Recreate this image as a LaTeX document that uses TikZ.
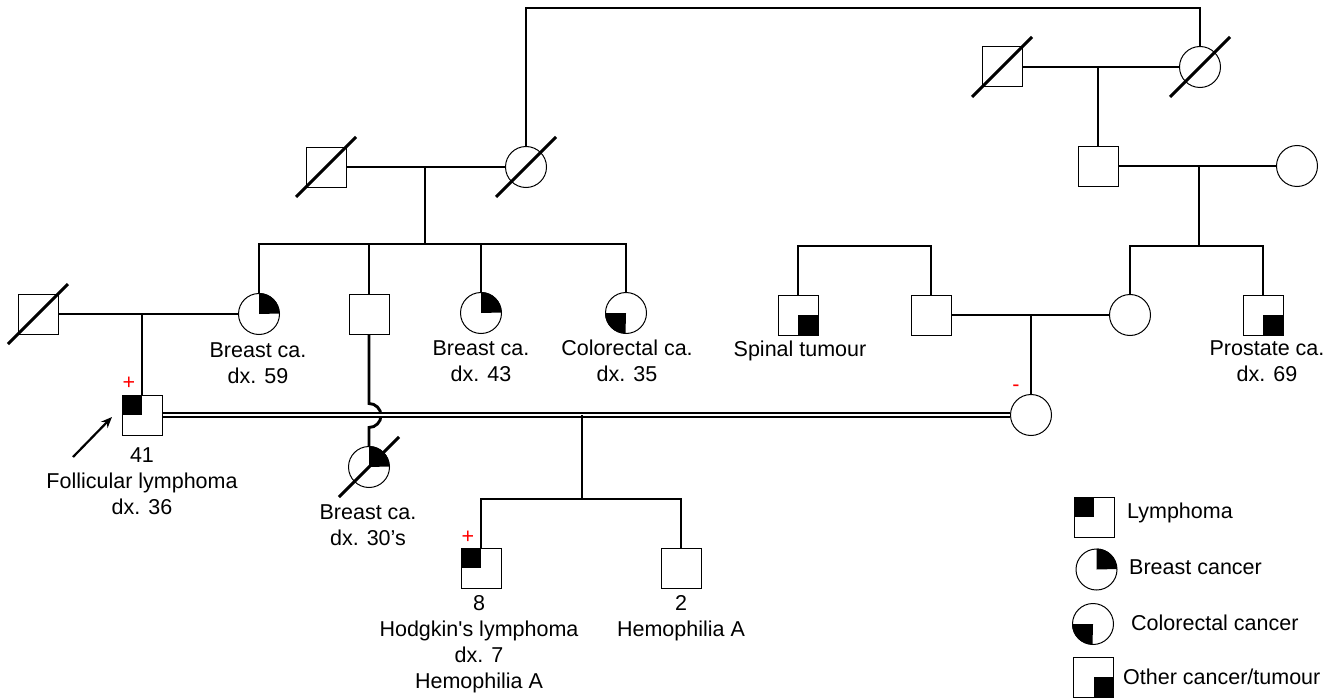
\documentclass[tikz,border=0pt]{standalone}
\usepackage{fontspec}
\setmainfont{Liberation Sans}[Ligatures=TeXOff]
\usetikzlibrary{calc,arrows.meta}
\newcommand\pedQTL[1]{\fill (#1.north west) rectangle (#1.center);}
\newcommand\pedQBR[1]{\fill (#1.center) rectangle (#1.south east);}
\newcommand\pedCTR[1]{\fill (#1.center) -- (#1.north) arc[start angle=90,end angle=0,radius=20.5pt] -- cycle;}
\newcommand\pedCBL[1]{\fill (#1.center) -- (#1.west) arc[start angle=180,end angle=270,radius=20.5pt] -- cycle;}
\newcommand\pedDead[1]{\draw[slashline] ($(#1.center)+(-30,-30)$) -- ($(#1.center)+(30,30)$);}
\begin{document}
\begin{tikzpicture}[x=1pt,y=1pt,
  conn/.style={line width=2.9pt},
  dbl/.style={double, line width=1.4pt, double distance=2.4pt},
  male/.style={draw, line width=1pt, rectangle, minimum size=40pt, inner sep=0pt},
  female/.style={draw, line width=1pt, circle, minimum size=41pt, inner sep=0pt},
  slashline/.style={line width=3pt},
  lbl/.style={font=\fontsize{21.5}{26}\selectfont, align=center, inner sep=0pt},
  legtext/.style={font=\fontsize{21.5}{26}\selectfont, anchor=west, inner sep=0pt},
  sign/.style={font=\fontsize{21.5}{26}\selectfont, text=red, inner sep=0pt},
]
\useasboundingbox (0,0) rectangle (1338,-698);

% individuals
\node[male]   (g1m)  at (1002,-67) {};
\node[female] (g1f)  at (1200,-67) {};
\node[male]   (g2ml) at (326,-167) {};
\node[female] (g2fl) at (526,-167) {};
\node[male]   (g2mr) at (1098,-166) {};
\node[female] (g2fr) at (1297,-166) {};
\node[male]   (fa)   at (38,-314) {};
\node[female] (b59)  at (259,-314) {};
\node[male]   (s1)   at (369,-314) {};
\node[female] (b43)  at (481,-313) {};
\node[female] (cr35) at (626,-313) {};
\node[male]   (sp)   at (798,-315) {};
\node[male]   (hm)   at (931,-315) {};
\node[female] (wf)   at (1130,-315) {};
\node[male]   (pr)   at (1263,-315) {};
\node[male]   (pb)   at (142,-415) {};
\node[female] (b30)  at (369,-467) {};
\node[female] (mo)   at (1031,-415) {};
\node[male]   (c8)   at (481,-568) {};
\node[male]   (c2)   at (681,-568) {};

% helper coordinates
\coordinate (topl) at (526,-8);
\coordinate (d2) at (1199,-166);
\coordinate (sib2) at (1199,-246);
\coordinate (sibsp) at (864,-246);
\coordinate (d3) at (425,-167);
\coordinate (sib3) at (425,-244);
\coordinate (dd) at (582,-415);
\coordinate (sib5) at (582,-499);
\coordinate (arrS) at (73,-457);
\coordinate (arrE) at (112,-417);

% connectors
\draw[conn] (g2fl.north) -- (g2fl.north |- topl) -| (g1f.north);
\draw[conn] (g1m.east) -- (g1f.west);
\draw[conn] (g2mr.north |- g1m.east) -- (g2mr.north);
\draw[conn] (g2mr.east) -- (g2fr.west);
\draw[conn] (d2) -- (sib2);
\draw[conn] (wf.north) |- (sib2) -| (pr.north);
\draw[conn] (sp.north) |- (sibsp) -| (hm.north);
\draw[conn] (hm.east) -- (wf.west);
\draw[conn] (mo.north |- hm.east) -- (mo.north);
\draw[conn] (g2ml.east) -- (g2fl.west);
\draw[conn] (d3) -- (sib3);
\draw[conn] (b59.north) |- (sib3) -| (cr35.north);
\draw[conn] (s1.north) -- (s1.north |- sib3);
\draw[conn] (b43.north) -- (b43.north |- sib3);
\draw[conn] (fa.east) -- (b59.west);
\draw[conn] (pb.north |- fa.east) -- (pb.north);
\draw[conn] (s1.south) -- ++(0,-69) arc[start angle=90,end angle=-90,radius=12] -- (b30.north);
\draw[dbl] (pb.east) -- (mo.west);
\draw[conn] (dd) -- (sib5);
\draw[conn] (c8.north) |- (sib5) -| (c2.north);
\draw[line width=2.2pt,-{Stealth[length=11pt,width=9pt]}] (arrS) -- (arrE);

% affection status
\pedQTL{pb}
\pedQTL{c8}
\pedQBR{sp}
\pedQBR{pr}
\pedCTR{b59}
\pedCTR{b43}
\pedCTR{b30}
\pedCBL{cr35}

% deceased
\pedDead{g1m}
\pedDead{g1f}
\pedDead{g2ml}
\pedDead{g2fl}
\pedDead{fa}
\pedDead{b30}

% signs
\node[sign] (plus1) at (129,-383) {+};
\node[sign] (plus2) at (468,-537) {+};
\node[sign] (minus1) at (1016,-388) {-};

% labels
\node[lbl] (t_pb)  at (142,-481) {41\\Follicular lymphoma\\dx. 36};
\node[lbl] (t_b59) at (258,-363) {Breast ca.\\dx. 59};
\node[lbl] (t_b43) at (481,-361) {Breast ca.\\dx. 43};
\node[lbl] (t_cr)  at (627,-361) {Colorectal ca.\\dx. 35};
\node[lbl] (t_sp)  at (800,-351) {Spinal tumour};
\node[lbl] (t_pr)  at (1267,-361) {Prostate ca.\\dx. 69};
\node[lbl] (t_b30) at (368,-525) {Breast ca.\\dx. 30’s};
\node[lbl] (t_c8)  at (479,-644) {8\\Hodgkin's lymphoma\\dx. 7\\Hemophilia A};
\node[lbl] (t_c2)  at (681,-618) {2\\Hemophilia A};

% legend
\node[male]   (l1) at (1094,-517) {};
\node[female] (l2) at (1096.5,-569.5) {};
\node[female] (l3) at (1093,-624) {};
\node[male]   (l4) at (1093.5,-677) {};
\pedQTL{l1}
\pedCTR{l2}
\pedCBL{l3}
\pedQBR{l4}
\node[legtext] (lt1) at (1127,-513) {Lymphoma};
\node[legtext] (lt2) at (1129,-567) {Breast cancer};
\node[legtext] (lt3) at (1131,-623) {Colorectal cancer};
\node[legtext] (lt4) at (1123,-677) {Other cancer/tumour};
\end{tikzpicture}
\end{document}
